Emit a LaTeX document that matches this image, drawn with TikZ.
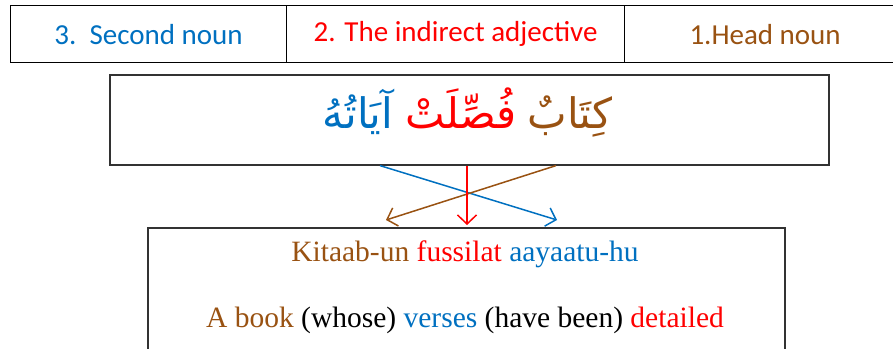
\documentclass[tikz,border=0pt]{standalone}
\usepackage{fontspec}
\usetikzlibrary{arrows.meta,positioning}
\setmainfont{Liberation Serif}
\newfontfamily\calib{Carlito}
\newfontfamily\arabicfont[Script=Arabic]{DejaVu Sans}
\TeXXeTstate=1
\definecolor{cblue}{RGB}{0,112,192}
\definecolor{cred}{RGB}{255,0,0}
\definecolor{cbrown}{RGB}{153,82,18}
\definecolor{frame}{RGB}{50,50,50}
\begin{document}
\begin{tikzpicture}[x=1pt,y=-1pt,
  cell/.style={draw=black,line width=1.2pt,minimum height=57pt,inner sep=0pt,anchor=north west,font=\calib\fontsize{29}{34}\selectfont},
  bigbox/.style={draw=frame,line width=1.6pt,inner sep=0pt,anchor=north west},
  arword/.style={inner sep=0pt,anchor=base,font=\arabicfont\fontsize{42}{48}\selectfont},
  engline/.style={font=\fontsize{29.5}{34}\selectfont},
  arr/.style={line width=1.5pt,-{Straight Barb[length=9pt,width=19pt,line width=1.5pt]}}]
\useasboundingbox (0,0) rectangle (893,348);
% top row
\node[cell,minimum width=276pt,text=cblue] (c3) at (10,5) {3.\ \ Second noun};
\node[cell,minimum width=338pt,text=cred] (c2) at (286,5) {2. The indirect adjective};
\node[cell,minimum width=281pt,text=cbrown] (c1) at (624,5) {1.Head noun};
% middle box
\node[bigbox,minimum width=719pt,minimum height=90pt] (mid) at (109,74) {};
\node[arword,text=cbrown] (w1) at (570,128) {\beginR كِتَابٌ\endR};
\node[arword,text=cred] (w2) at (461,128) {\beginR فُصِّلَتْ\endR};
\node[arword,text=cblue] (w3) at (358,128) {\beginR آيَاتُهُ\endR};
% bottom box
\node[bigbox,minimum width=637pt,minimum height=160pt] (bot) at (147,227) {};
\node[engline] (l1) at (465,254)
  {\color{cbrown}Kitaab-un \color{cred}fussilat \color{cblue}aayaatu-hu};
\node[engline] (l2) at (465,320)
  {\color{cbrown}A book \color{black}(whose) \color{cblue}verses \color{black}(have been) \color{cred}detailed};
% arrows
\coordinate (bs) at (mid.south west -| 380,0);
\coordinate (be) at (557,220);
\coordinate (rs) at (mid.south west -| 467,0);
\coordinate (re) at (467,225);
\coordinate (ns) at (mid.south west -| 556,0);
\coordinate (ne) at (386,220);
\draw[arr,cblue] (bs) -- (be);
\draw[arr,cbrown] (ns) -- (ne);
\draw[arr,cred] (rs) -- (re);
\end{tikzpicture}
\end{document}
